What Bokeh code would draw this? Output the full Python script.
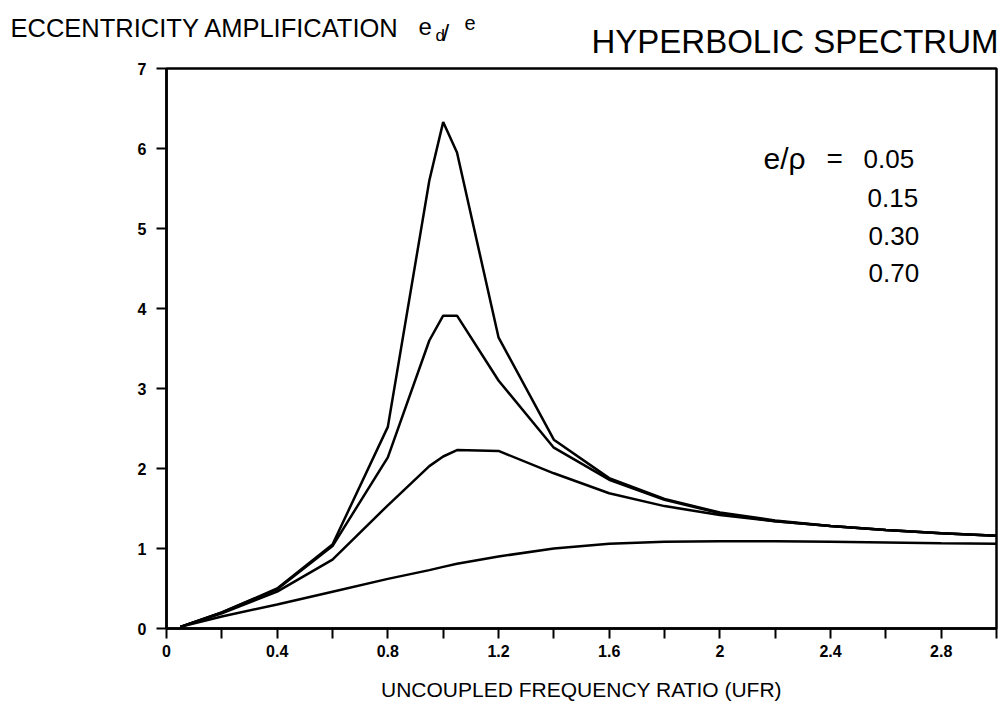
from bokeh.plotting import figure
from bokeh.layouts import column
from bokeh.models import Range1d, FixedTicker, Label
from bokeh.embed import file_html
from bokeh.resources import INLINE

# ---- data ----
ufr = [0.05, 0.2, 0.4, 0.6, 0.8, 0.95, 1.0, 1.05, 1.2, 1.4, 1.6, 1.8, 2.0, 2.2, 2.4, 2.6, 2.8, 3.0]
amp_005 = [0.02, 0.20, 0.50, 1.05, 2.52, 5.60, 6.33, 5.95, 3.64, 2.36, 1.88, 1.62, 1.45, 1.35, 1.28, 1.23, 1.19, 1.16]
amp_015 = [0.02, 0.20, 0.49, 1.03, 2.14, 3.60, 3.91, 3.91, 3.10, 2.26, 1.86, 1.61, 1.44, 1.34, 1.28, 1.23, 1.19, 1.16]
amp_030 = [0.02, 0.19, 0.46, 0.86, 1.54, 2.03, 2.15, 2.23, 2.22, 1.94, 1.69, 1.53, 1.42, 1.34, 1.28, 1.23, 1.19, 1.16]
amp_070 = [0.02, 0.15, 0.30, 0.46, 0.62, 0.73, 0.77, 0.81, 0.90, 1.00, 1.06, 1.085, 1.09, 1.09, 1.085, 1.075, 1.065, 1.06]
series = [amp_005, amp_015, amp_030, amp_070]
ratio_labels = ["0.05", "0.15", "0.30", "0.70"]

x_ticks = [0, 0.4, 0.8, 1.2, 1.6, 2, 2.4, 2.8]
x_minor = [0.2, 0.6, 1.0, 1.4, 1.8, 2.2, 2.6, 3.0]
x_tick_labels = {0: "0", 0.4: "0.4", 0.8: "0.8", 1.2: "1.2", 1.6: "1.6", 2: "2", 2.4: "2.4", 2.8: "2.8"}
y_ticks = [0, 1, 2, 3, 4, 5, 6, 7]

FONT = "Liberation Sans"
TOP_H = 60

# ---- title strip (pixel-like coordinates, y measured from top) ----
t = figure(width=1000, height=TOP_H, output_backend="svg", toolbar_location=None,
           x_range=Range1d(0, 1000), y_range=Range1d(TOP_H + 16, 0),
           min_border=0, min_border_left=0, min_border_right=0,
           min_border_top=0, min_border_bottom=0)
t.axis.visible = False
t.grid.visible = False
t.outline_line_color = None
t.background_fill_color = "white"
t.border_fill_color = "white"
t.frame_align = False

def tlab(text, x, y, size, align="left"):
    t.add_layout(Label(x=x, y=y, text=text, text_font=FONT, text_font_size=size,
                       text_align=align, text_baseline="alphabetic", text_color="black"))

tlab("ECCENTRICITY AMPLIFICATION", 10, 35, "25.5px")
tlab("e", 418, 33, "24px")
tlab("d", 435, 44, "17px")
tlab("/", 442, 40, "24px")
tlab("e", 464, 28, "20px")
tlab("HYPERBOLIC SPECTRUM", 998, 52, "33px", align="right")

# ---- main plot ----
p = figure(width=1000, height=708 - TOP_H, output_backend="svg", toolbar_location=None,
           x_range=Range1d(0, 3), y_range=Range1d(0, 7),
           min_border_left=166, min_border_right=4, min_border_top=68 - TOP_H,
           min_border_bottom=80)
p.frame_align = False
p.grid.visible = False
p.background_fill_color = "white"
p.border_fill_color = "white"
p.outline_line_color = "black"
p.outline_line_width = 2.5

for ys in series:
    p.line(ufr, ys, line_color="black", line_width=2.5)

xa = p.xaxis[0]
xa.ticker = FixedTicker(ticks=x_ticks, minor_ticks=x_minor)
xa.major_label_overrides = x_tick_labels
ya = p.yaxis[0]
ya.ticker = FixedTicker(ticks=y_ticks)

for ax in (xa, ya):
    ax.axis_line_width = 2.5
    ax.axis_line_color = "black"
    ax.major_tick_line_width = 2
    ax.minor_tick_line_width = 2
    ax.major_tick_in = 0
    ax.major_tick_out = 10
    ax.minor_tick_in = 0
    ax.minor_tick_out = 10
    ax.major_label_text_font = FONT
    ax.major_label_text_font_style = "bold"
    ax.major_label_text_font_size = "16px"
    ax.major_label_text_color = "black"
ya.minor_tick_out = 0
ya.major_label_standoff = 10
xa.major_label_standoff = 6
xa.axis_label = "UNCOUPLED FREQUENCY RATIO (UFR)"
xa.axis_label_text_font = FONT
xa.axis_label_text_font_style = "normal"
xa.axis_label_text_font_size = "21px"
xa.axis_label_standoff = 18
xa.axis_label_text_color = "black"

def px_x(px):
    return (px - 166) / 276.67

def px_y(py):
    return (628 - py) / 80.0

def lab(text, px, py, size, align="left"):
    p.add_layout(Label(x=px_x(px), y=px_y(py), text=text, text_font=FONT,
                       text_font_size=size, text_align=align, text_baseline="alphabetic",
                       text_color="black"))

# in-plot legend text
lab("e/ρ", 763, 158, "30px")
lab("=", 826, 158, "28px")
num_x = [863, 867, 868, 868]
num_y = [158, 197, 235, 272]
for txt, nx, ny in zip(ratio_labels, num_x, num_y):
    lab(txt, nx, ny, "26px")

layout = column(t, p, spacing=0)
open("out.html", "w").write(file_html(layout, INLINE))
